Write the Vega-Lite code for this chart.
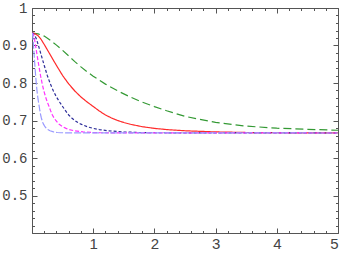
{
  "$schema": "https://vega.github.io/schema/vega-lite/v6.json",
  "width": 306,
  "height": 225,
  "autosize": {"type": "none"},
  "padding": {"left": 32, "top": 8, "right": 7, "bottom": 21},
  "background": "white",
  "config": {
    "view": {"stroke": null},
    "axis": {"domainColor": "#555555", "tickColor": "#555555", "labelFont": "Liberation Mono", "labelFontSize": 14, "labelColor": "#444444", "title": null, "grid": false, "domainWidth": 1, "tickWidth": 1}
  },
  "datasets": {
    "curves": [
      {"s": "a", "x": 0, "y": 0.9334}, {"s": "a", "x": 0.1, "y": 0.931}, {"s": "a", "x": 0.2, "y": 0.925}, {"s": "a", "x": 0.3, "y": 0.914}, {"s": "a", "x": 0.4, "y": 0.901}, {"s": "a", "x": 0.5, "y": 0.887}, {"s": "a", "x": 0.6, "y": 0.872}, {"s": "a", "x": 0.7, "y": 0.857}, {"s": "a", "x": 0.8, "y": 0.843}, {"s": "a", "x": 0.9, "y": 0.83}, {"s": "a", "x": 1.0, "y": 0.818}, {"s": "a", "x": 1.2, "y": 0.797}, {"s": "a", "x": 1.4, "y": 0.779}, {"s": "a", "x": 1.6, "y": 0.763}, {"s": "a", "x": 1.8, "y": 0.749}, {"s": "a", "x": 2.0, "y": 0.737}, {"s": "a", "x": 2.2, "y": 0.726}, {"s": "a", "x": 2.5, "y": 0.711}, {"s": "a", "x": 3.0, "y": 0.695}, {"s": "a", "x": 3.5, "y": 0.685}, {"s": "a", "x": 4.0, "y": 0.6795}, {"s": "a", "x": 4.5, "y": 0.6765}, {"s": "a", "x": 5.0, "y": 0.674},
      {"s": "b", "x": 0, "y": 0.9334}, {"s": "b", "x": 0.05, "y": 0.9315}, {"s": "b", "x": 0.1, "y": 0.9259}, {"s": "b", "x": 0.15, "y": 0.916}, {"s": "b", "x": 0.2, "y": 0.9027}, {"s": "b", "x": 0.25, "y": 0.8888}, {"s": "b", "x": 0.3, "y": 0.8747}, {"s": "b", "x": 0.35, "y": 0.8606}, {"s": "b", "x": 0.4, "y": 0.8467}, {"s": "b", "x": 0.45, "y": 0.8334}, {"s": "b", "x": 0.5, "y": 0.82}, {"s": "b", "x": 0.6, "y": 0.7974}, {"s": "b", "x": 0.7, "y": 0.7787}, {"s": "b", "x": 0.8, "y": 0.7627}, {"s": "b", "x": 0.9, "y": 0.7494}, {"s": "b", "x": 1.0, "y": 0.7374}, {"s": "b", "x": 1.1, "y": 0.7254}, {"s": "b", "x": 1.2, "y": 0.7147}, {"s": "b", "x": 1.3, "y": 0.7067}, {"s": "b", "x": 1.4, "y": 0.7}, {"s": "b", "x": 1.5, "y": 0.6947}, {"s": "b", "x": 1.6, "y": 0.6902}, {"s": "b", "x": 1.8, "y": 0.6835}, {"s": "b", "x": 2.0, "y": 0.679}, {"s": "b", "x": 2.2, "y": 0.6758}, {"s": "b", "x": 2.5, "y": 0.6726}, {"s": "b", "x": 3.0, "y": 0.6696}, {"s": "b", "x": 3.5, "y": 0.668}, {"s": "b", "x": 4.0, "y": 0.6674}, {"s": "b", "x": 4.5, "y": 0.667}, {"s": "b", "x": 5.0, "y": 0.6669},
      {"s": "c", "x": 0, "y": 0.9334}, {"s": "c", "x": 0.025, "y": 0.9315}, {"s": "c", "x": 0.05, "y": 0.9259}, {"s": "c", "x": 0.075, "y": 0.916}, {"s": "c", "x": 0.1, "y": 0.9027}, {"s": "c", "x": 0.125, "y": 0.8888}, {"s": "c", "x": 0.15, "y": 0.8747}, {"s": "c", "x": 0.175, "y": 0.8606}, {"s": "c", "x": 0.2, "y": 0.8467}, {"s": "c", "x": 0.225, "y": 0.8334}, {"s": "c", "x": 0.25, "y": 0.82}, {"s": "c", "x": 0.3, "y": 0.7974}, {"s": "c", "x": 0.35, "y": 0.7787}, {"s": "c", "x": 0.4, "y": 0.7627}, {"s": "c", "x": 0.45, "y": 0.7494}, {"s": "c", "x": 0.5, "y": 0.7374}, {"s": "c", "x": 0.55, "y": 0.7254}, {"s": "c", "x": 0.6, "y": 0.7147}, {"s": "c", "x": 0.65, "y": 0.7067}, {"s": "c", "x": 0.7, "y": 0.7}, {"s": "c", "x": 0.75, "y": 0.6947}, {"s": "c", "x": 0.8, "y": 0.6902}, {"s": "c", "x": 0.9, "y": 0.6835}, {"s": "c", "x": 1.0, "y": 0.679}, {"s": "c", "x": 1.1, "y": 0.6758}, {"s": "c", "x": 1.25, "y": 0.6726}, {"s": "c", "x": 1.5, "y": 0.6696}, {"s": "c", "x": 1.75, "y": 0.668}, {"s": "c", "x": 2.0, "y": 0.6674}, {"s": "c", "x": 2.5, "y": 0.667}, {"s": "c", "x": 5.0, "y": 0.6667},
      {"s": "d", "x": 0, "y": 0.9334}, {"s": "d", "x": 0.014, "y": 0.9315}, {"s": "d", "x": 0.028, "y": 0.9259}, {"s": "d", "x": 0.042, "y": 0.916}, {"s": "d", "x": 0.056, "y": 0.9027}, {"s": "d", "x": 0.069, "y": 0.8888}, {"s": "d", "x": 0.083, "y": 0.8747}, {"s": "d", "x": 0.097, "y": 0.8606}, {"s": "d", "x": 0.111, "y": 0.8467}, {"s": "d", "x": 0.125, "y": 0.8334}, {"s": "d", "x": 0.139, "y": 0.82}, {"s": "d", "x": 0.167, "y": 0.7974}, {"s": "d", "x": 0.194, "y": 0.7787}, {"s": "d", "x": 0.222, "y": 0.7627}, {"s": "d", "x": 0.25, "y": 0.7494}, {"s": "d", "x": 0.278, "y": 0.7374}, {"s": "d", "x": 0.306, "y": 0.7254}, {"s": "d", "x": 0.333, "y": 0.7147}, {"s": "d", "x": 0.361, "y": 0.7067}, {"s": "d", "x": 0.389, "y": 0.7}, {"s": "d", "x": 0.417, "y": 0.6947}, {"s": "d", "x": 0.444, "y": 0.6902}, {"s": "d", "x": 0.5, "y": 0.6835}, {"s": "d", "x": 0.556, "y": 0.679}, {"s": "d", "x": 0.611, "y": 0.6758}, {"s": "d", "x": 0.694, "y": 0.6726}, {"s": "d", "x": 0.833, "y": 0.6696}, {"s": "d", "x": 0.972, "y": 0.668}, {"s": "d", "x": 1.111, "y": 0.6674}, {"s": "d", "x": 1.389, "y": 0.667}, {"s": "d", "x": 5.0, "y": 0.6667},
      {"s": "e", "x": 0, "y": 0.9334}, {"s": "e", "x": 0.006, "y": 0.9315}, {"s": "e", "x": 0.012, "y": 0.9259}, {"s": "e", "x": 0.018, "y": 0.916}, {"s": "e", "x": 0.024, "y": 0.9027}, {"s": "e", "x": 0.029, "y": 0.8888}, {"s": "e", "x": 0.035, "y": 0.8747}, {"s": "e", "x": 0.041, "y": 0.8606}, {"s": "e", "x": 0.047, "y": 0.8467}, {"s": "e", "x": 0.053, "y": 0.8334}, {"s": "e", "x": 0.059, "y": 0.82}, {"s": "e", "x": 0.071, "y": 0.7974}, {"s": "e", "x": 0.082, "y": 0.7787}, {"s": "e", "x": 0.094, "y": 0.7627}, {"s": "e", "x": 0.106, "y": 0.7494}, {"s": "e", "x": 0.118, "y": 0.7374}, {"s": "e", "x": 0.129, "y": 0.7254}, {"s": "e", "x": 0.141, "y": 0.7147}, {"s": "e", "x": 0.153, "y": 0.7067}, {"s": "e", "x": 0.165, "y": 0.7}, {"s": "e", "x": 0.176, "y": 0.6947}, {"s": "e", "x": 0.188, "y": 0.6902}, {"s": "e", "x": 0.212, "y": 0.6835}, {"s": "e", "x": 0.235, "y": 0.679}, {"s": "e", "x": 0.259, "y": 0.6758}, {"s": "e", "x": 0.294, "y": 0.6726}, {"s": "e", "x": 0.353, "y": 0.6696}, {"s": "e", "x": 0.412, "y": 0.668}, {"s": "e", "x": 0.471, "y": 0.6674}, {"s": "e", "x": 0.588, "y": 0.667}, {"s": "e", "x": 5.0, "y": 0.6667}
    ]
  },
  "data": {"name": "curves"},
  "layer": [
    {
      "mark": {"type": "line", "strokeWidth": 1.2, "clip": true},
      "encoding": {
        "x": {"field": "x", "type": "quantitative", "scale": {"domain": [0, 5], "nice": false, "zero": false},
          "axis": {"orient": "bottom", "values": [0, 1, 2, 3, 4, 5], "tickSize": -5, "labelPadding": 8, "labelExpr": "datum.value == 0 ? '' : datum.label", "labelFont": "Liberation Sans", "labelFontSize": 15}},
        "y": {"field": "y", "type": "quantitative", "scale": {"domain": [0.4, 1], "nice": false, "zero": false},
          "axis": {"orient": "left", "values": [0.4, 0.5, 0.6, 0.7, 0.8, 0.9, 1], "tickSize": -5, "labelPadding": 10, "labelExpr": "datum.value < 0.45 ? '' : (datum.value > 0.99 ? '1' : format(datum.value, '.1f'))"}},
        "color": {"field": "s", "type": "nominal", "legend": null,
          "scale": {"domain": ["a", "b", "c", "d", "e"], "range": ["#339933", "#ff2a2a", "#2d2d99", "#ff33ff", "#9999ff"]}},
        "strokeDash": {"field": "s", "type": "nominal", "legend": null,
          "scale": {"domain": ["a", "b", "c", "d", "e"], "range": [[8, 4], [1, 0], [3, 2], [4, 2], [7, 2]]}}
      }
    },
    {
      "mark": {"type": "line", "opacity": 0},
      "encoding": {
        "x": {"field": "x", "type": "quantitative", "axis": {"orient": "bottom", "values": [0.2, 0.4, 0.6, 0.8, 1.2, 1.4, 1.6, 1.8, 2.2, 2.4, 2.6, 2.8, 3.2, 3.4, 3.6, 3.8, 4.2, 4.4, 4.6, 4.8], "tickSize": -2.5, "labels": false, "domain": false}},
        "y": {"field": "y", "type": "quantitative", "axis": {"orient": "left", "values": [0.42, 0.44, 0.46, 0.48, 0.52, 0.54, 0.56, 0.58, 0.62, 0.64, 0.66, 0.68, 0.72, 0.74, 0.76, 0.78, 0.82, 0.84, 0.86, 0.88, 0.92, 0.94, 0.96, 0.98], "tickSize": -2.5, "labels": false, "domain": false}},
        "detail": {"field": "s"}
      }
    },
    {
      "mark": {"type": "line", "opacity": 0},
      "encoding": {
        "x": {"field": "x", "type": "quantitative", "axis": {"orient": "top", "values": [0, 1, 2, 3, 4, 5], "tickSize": -5, "labels": false}},
        "y": {"field": "y", "type": "quantitative", "axis": {"orient": "right", "values": [0.4, 0.5, 0.6, 0.7, 0.8, 0.9, 1], "tickSize": -5, "labels": false}},
        "detail": {"field": "s"}
      }
    },
    {
      "mark": {"type": "line", "opacity": 0},
      "encoding": {
        "x": {"field": "x", "type": "quantitative", "axis": {"orient": "top", "values": [0.2, 0.4, 0.6, 0.8, 1.2, 1.4, 1.6, 1.8, 2.2, 2.4, 2.6, 2.8, 3.2, 3.4, 3.6, 3.8, 4.2, 4.4, 4.6, 4.8], "tickSize": -2.5, "labels": false, "domain": false}},
        "y": {"field": "y", "type": "quantitative", "axis": {"orient": "right", "values": [0.42, 0.44, 0.46, 0.48, 0.52, 0.54, 0.56, 0.58, 0.62, 0.64, 0.66, 0.68, 0.72, 0.74, 0.76, 0.78, 0.82, 0.84, 0.86, 0.88, 0.92, 0.94, 0.96, 0.98], "tickSize": -2.5, "labels": false, "domain": false}},
        "detail": {"field": "s"}
      }
    }
  ],
  "resolve": {"axis": {"x": "independent", "y": "independent"}}
}
